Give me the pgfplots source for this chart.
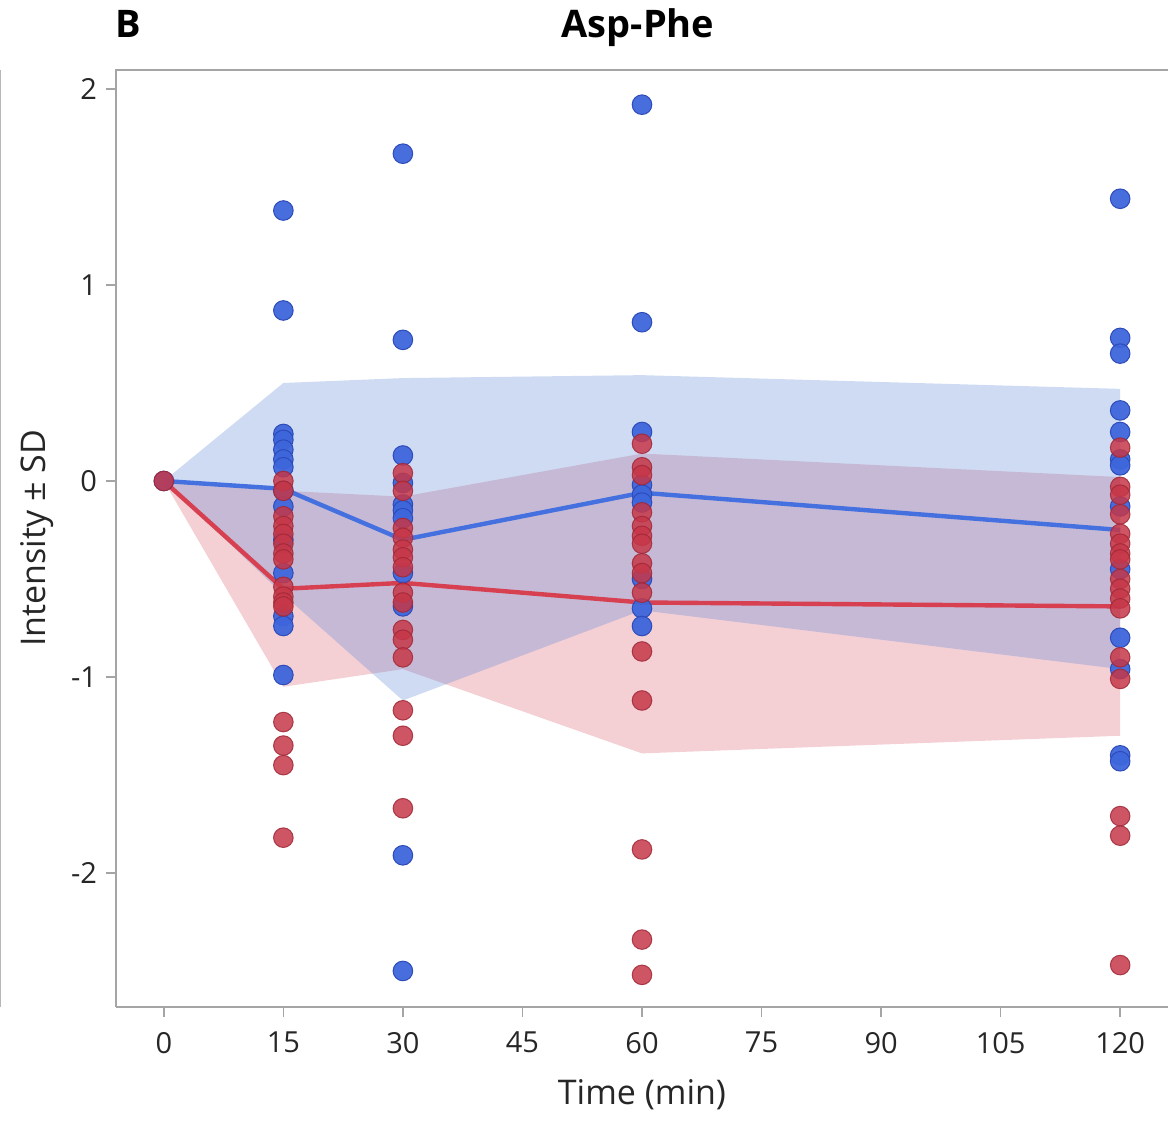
\documentclass[border=0pt]{standalone}
\usepackage{pgfplots}
\pgfplotsset{compat=1.18}
\usepackage{fontspec}
\setmainfont{Open Sans}
\definecolor{bluept}{RGB}{62,102,220}
\definecolor{blueedge}{RGB}{45,75,185}
\definecolor{redpt}{RGB}{198,55,72}
\definecolor{rededge}{RGB}{160,40,55}
\definecolor{blueband}{RGB}{95,135,215}
\definecolor{redband}{RGB}{218,98,115}
\definecolor{blueline}{RGB}{68,112,224}
\definecolor{redline}{RGB}{214,64,80}
\definecolor{axgray}{RGB}{165,165,165}
\begin{document}
\begin{tikzpicture}
\begin{axis}[
  name=ax,
  scale only axis,
  width=526pt, height=468.5pt,
  xmin=-6, xmax=126, ymin=-2.684, ymax=2.097,
  xtick={0,15,30,45,60,75,90,105,120},
  ytick={-2,-1,0,1,2},
  tick align=outside,
  major tick length=5pt,
  tick style={axgray, line width=0.8pt},
  axis line style={axgray, line width=1pt},
  axis x line*=bottom, axis y line*=left,
  ticklabel style={font=\fontsize{14.5}{16}\selectfont, text=black!85},
  /pgf/number format/assume math mode=true,
  yticklabel style={xshift=-1pt},
  xticklabel style={yshift=-4pt},
  xlabel={Time (min)},
  ylabel={Intensity ± SD},
  label style={font=\fontsize{17}{20}\selectfont, text=black!85},
  xlabel style={yshift=-6pt},
  ylabel style={yshift=2pt},
  clip=false,
]
% bands
\addplot[draw=none, fill=redband, fill opacity=0.3] coordinates {
 (0,0) (15,-0.05) (30,-0.08) (60,0.14) (120,0.02)
 (120,-1.30) (60,-1.39) (30,-0.96) (15,-1.05) (0,0)} -- cycle;
\addplot[draw=none, fill=blueband, fill opacity=0.3] coordinates {
 (0,0) (15,0.50) (30,0.525) (60,0.54) (120,0.47)
 (120,-0.96) (60,-0.66) (30,-1.12) (15,-0.58) (0,0)} -- cycle;
% blue points
\addplot[only marks, mark=*, mark size=4.9pt, mark options={draw=blueedge, fill=bluept, line width=0.5pt, fill opacity=0.95}] coordinates {
 (0,0)
 (15,1.38) (15,0.87) (15,0.24) (15,0.21) (15,0.16) (15,0.11) (15,0.07) (15,-0.05) (15,-0.13) (15,-0.30) (15,-0.47) (15,-0.69) (15,-0.74) (15,-0.99)
 (30,1.67) (30,0.72) (30,0.13) (30,-0.01) (30,-0.12) (30,-0.15) (30,-0.19) (30,-0.47) (30,-0.64) (30,-1.91) (30,-2.50)
 (60,1.92) (60,0.81) (60,0.25) (60,-0.02) (60,-0.07) (60,-0.11) (60,-0.50) (60,-0.65) (60,-0.74)
 (120,1.44) (120,0.73) (120,0.65) (120,0.36) (120,0.25) (120,0.11) (120,0.08) (120,-0.13) (120,-0.45) (120,-0.80) (120,-0.96) (120,-1.40) (120,-1.43)
};
% red points
\addplot[only marks, mark=*, mark size=4.9pt, mark options={draw=rededge, fill=redpt, line width=0.5pt, fill opacity=0.85, draw opacity=0.85}] coordinates {
 (0,0)
 (15,0.0) (15,-0.05) (15,-0.18) (15,-0.23) (15,-0.27) (15,-0.32) (15,-0.37) (15,-0.40) (15,-0.54) (15,-0.59) (15,-0.62) (15,-0.64) (15,-1.23) (15,-1.35) (15,-1.45) (15,-1.82)
 (30,0.04) (30,-0.05) (30,-0.24) (30,-0.29) (30,-0.35) (30,-0.39) (30,-0.44) (30,-0.57) (30,-0.62) (30,-0.76) (30,-0.81) (30,-0.90) (30,-1.17) (30,-1.30) (30,-1.67)
 (60,0.19) (60,0.07) (60,0.03) (60,-0.16) (60,-0.23) (60,-0.28) (60,-0.32) (60,-0.42) (60,-0.47) (60,-0.57) (60,-0.87) (60,-1.12) (60,-1.88) (60,-2.34) (60,-2.52)
 (120,0.17) (120,-0.03) (120,-0.07) (120,-0.17) (120,-0.27) (120,-0.32) (120,-0.37) (120,-0.40) (120,-0.50) (120,-0.55) (120,-0.60) (120,-0.65) (120,-0.90) (120,-1.01) (120,-1.71) (120,-1.81) (120,-2.47)
};
% mean lines
\addplot[redline, line width=2.2pt] coordinates {(0,0) (15,-0.55) (30,-0.52) (60,-0.62) (120,-0.64)};
\addplot[blueline, line width=2.2pt] coordinates {(0,0) (15,-0.04) (30,-0.30) (60,-0.06) (120,-0.25)};
\coordinate (bl) at (rel axis cs:0,0);
\coordinate (tr) at (rel axis cs:1,1);
\coordinate (tl) at (rel axis cs:0,1);
\coordinate (tc) at (rel axis cs:0.5,1);
\end{axis}
\draw[axgray, line width=1pt] (bl) -- (tl) -- (tr);
\draw[axgray!80, line width=0.6pt] ([xshift=-57.7pt]bl) -- ([xshift=-57.7pt]tl);
\node[font=\bfseries\fontsize{19}{22}\selectfont] at ([xshift=6pt,yshift=23pt]tl) {B};
\node[font=\bfseries\fontsize{19}{22}\selectfont, anchor=base] at ([xshift=-2pt,yshift=16pt]tc) {Asp-Phe};
\pgfresetboundingbox
\path ([shift={(-58pt,-56.5pt)}]bl) rectangle ([shift={(0pt,35pt)}]tr);
\end{tikzpicture}
\end{document}
